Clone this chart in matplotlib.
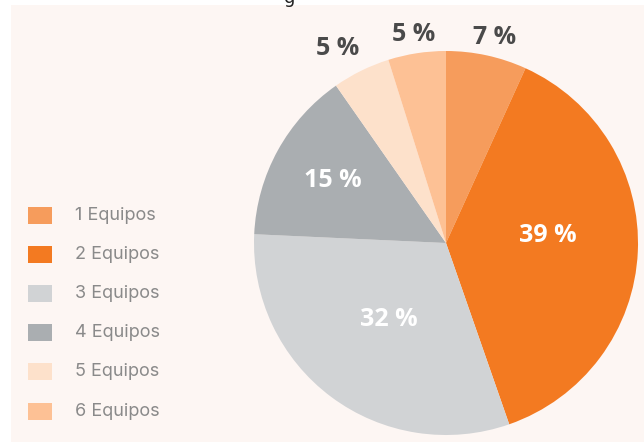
import matplotlib
matplotlib.use("Agg")
import matplotlib.pyplot as plt
from matplotlib.patches import Rectangle
import numpy as np

# datos del grafico
categorias = ["1 Equipos", "2 Equipos", "3 Equipos", "4 Equipos", "5 Equipos", "6 Equipos"]
porcentajes = [7, 39, 32, 15, 5, 5]
colores = ["#f69c5c", "#f37a21", "#d1d3d5", "#aaaeb1", "#fde1cb", "#fdc195"]

# posicion de cada etiqueta: distancia al centro (radio = 1) y desvio de angulo
dist_etiqueta = [1.10, 0.53, 0.50, 0.67, 1.16, 1.10]
desvio_angulo = [-1, 7, 0, 0, 3, 0]
color_etiqueta = ["#4a4a4a", "white", "white", "white", "#4a4a4a", "#4a4a4a"]


def main():
    W, H = 644, 442
    fig = plt.figure(figsize=(W / 100, H / 100), dpi=100)
    fig.patch.set_facecolor("white")

    # panel de fondo
    fig.patches.append(Rectangle((11 / W, 0), 1, (H - 5) / H, transform=fig.transFigure,
                                 facecolor="#fdf6f3", edgecolor="none", zorder=-5))
    # resto del titulo cortado arriba
    fig.text(290 / W, 1.005, "g", ha="center", va="center", fontsize=13, color="#222222")

    cx, cy, r = 446, 243, 192
    ax = fig.add_axes([(cx - r) / W, (H - cy - r) / H, 2 * r / W, 2 * r / H])
    ax.set_zorder(2)
    ax.patch.set_visible(False)
    wedges, _ = ax.pie(porcentajes, colors=colores, startangle=90, counterclock=False,
                       radius=1, wedgeprops=dict(linewidth=0))
    ax.set_xlim(-1, 1)
    ax.set_ylim(-1, 1)
    ax.set_aspect("equal")
    ax.axis("off")

    for w, p, d, da, c in zip(wedges, porcentajes, dist_etiqueta, desvio_angulo, color_etiqueta):
        ang = np.deg2rad((w.theta1 + w.theta2) / 2 + da)
        ax.text(d * np.cos(ang), d * np.sin(ang), f"{p} %", ha="center", va="center",
                fontsize=18, fontweight="bold", color=c, family="Open Sans", clip_on=False)

    # leyenda a mano
    y0, paso = 215, 39.2
    for i, (cat, col) in enumerate(zip(categorias, colores)):
        y = y0 + i * paso
        fig.patches.append(Rectangle((28 / W, 1 - (y + 8.5) / H), 24 / W, 17 / H,
                                     transform=fig.transFigure, facecolor=col,
                                     edgecolor="none", zorder=3))
        fig.text(75 / W, 1 - y / H, cat, ha="left", va="center", fontsize=13,
                 color="#8a8a8a", family="Inter")

    fig.savefig("out.png", dpi=100, facecolor=fig.get_facecolor())


if __name__ == "__main__":
    main()
